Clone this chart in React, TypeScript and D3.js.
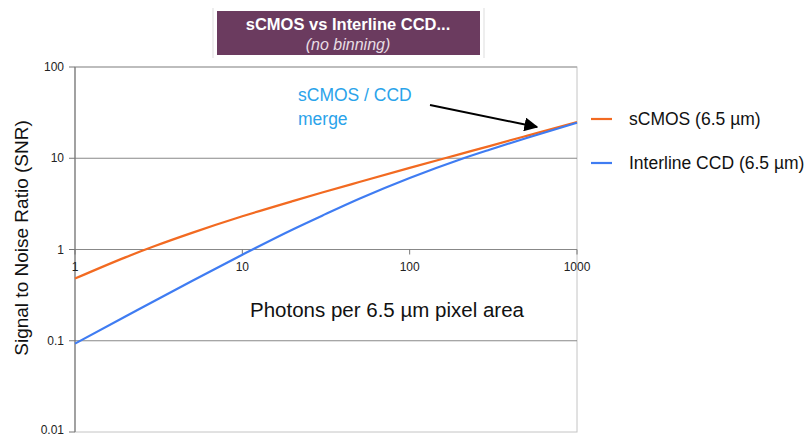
import React from "react";
import * as d3 from "d3";

const photons = [1, 2, 3, 5, 10, 20, 30, 50, 100, 200, 300, 500, 1000];
const sCMOS = [0.48, 0.82, 1.09, 1.52, 2.31, 3.39, 4.21, 5.49, 7.84, 11.1, 13.6, 17.6, 25];
const ccd = [0.093, 0.184, 0.275, 0.452, 0.877, 1.66, 2.35, 3.6, 6.08, 9.7, 12.4, 16.7, 24.5];
const yTicks = [0.01, 0.1, 1, 10, 100];
const yTickLabels = ["0.01", "0.1", "1", "10", "100"];
const xTicks = [1, 10, 100, 1000];
const xTickLabels = ["1", "10", "100", "1000"];
const seriesNames = ["sCMOS (6.5 \u00b5m)", "Interline CCD (6.5 \u00b5m)"];
const colors = ["#f26a21", "#3f7cf2"];

const W = 805, H = 437;
const FONT = "'Liberation Sans', Arial, sans-serif";

export default function App() {
  const x = d3.scaleLog().domain([1, 1000]).range([75, 577]);
  const y = d3.scaleLog().domain([0.01, 100]).range([432, 67]);
  const line = d3
    .line<[number, number]>()
    .x((d) => x(d[0]))
    .y((d) => y(d[1]))
    .curve(d3.curveMonotoneX);
  const series = [sCMOS, ccd].map((vals) => photons.map((p, i) => [p, vals[i]] as [number, number]));

  return (
    <svg width={W} height={H} style={{ position: "absolute", left: 0, top: 0, background: "#fff" }} fontFamily={FONT}>
      <defs>
        <marker id="ah" viewBox="0 0 10 10" refX="9" refY="5" markerWidth="7" markerHeight="7" orient="auto">
          <path d="M0,0 L10,5 L0,10 z" fill="#000" />
        </marker>
      </defs>
      {/* title box */}
      <line x1={213} x2={213} y1={8} y2={58} stroke="#ddd" />
      <line x1={484} x2={484} y1={8} y2={58} stroke="#ddd" />
      <rect x={217} y={11} width={263} height={44} fill="#6b3b5f" />
      <text x={348} y={30} textAnchor="middle" fill="#fff" fontSize={16.5} fontWeight="bold">sCMOS vs Interline CCD...</text>
      <text x={348} y={50} textAnchor="middle" fill="#e8dde4" fontSize={16} fontStyle="italic">(no binning)</text>

      {/* frame */}
      <rect x={x(1)} y={y(100)} width={x(1000) - x(1)} height={y(0.01) - y(100)} fill="none" stroke="#c4c4c4" />
      {yTicks.slice(1, 4).map((t) => (
        <line key={t} x1={x(1)} x2={x(1000)} y1={y(t)} y2={y(t)} stroke="#888" strokeWidth={1.2} />
      ))}
      <line x1={x(1)} x2={x(1000)} y1={y(100)} y2={y(100)} stroke="#999" />
      <line x1={x(1)} x2={x(1)} y1={y(100)} y2={y(0.01)} stroke="#777" strokeWidth={1.2} />
      {yTicks.map((t, i) => (
        <g key={t}>
          <line x1={x(1) - 6} x2={x(1)} y1={y(t)} y2={y(t)} stroke="#777" />
          <text x={x(1) - 11} y={Math.min(y(t) + 4, 434)} textAnchor="end" fontSize={12} fill="#222">{yTickLabels[i]}</text>
        </g>
      ))}
      {xTicks.map((t, i) => (
        <g key={t}>
          <line x1={x(t)} x2={x(t)} y1={y(1)} y2={y(1) + 5} stroke="#777" />
          <text x={x(t)} y={y(1) + 21} textAnchor="middle" fontSize={12} fill="#222">{xTickLabels[i]}</text>
        </g>
      ))}

      {/* series */}
      {series.map((s, i) => (
        <path key={i} d={line(s) || ""} fill="none" stroke={colors[i]} strokeWidth={2.2} />
      ))}

      {/* axis titles */}
      <text transform={`translate(28,238) rotate(-90)`} textAnchor="middle" fontSize={19} fill="#111">
        Signal to Noise Ratio (SNR)
      </text>
      <text x={387} y={317} textAnchor="middle" fontSize={20.5} fill="#111">Photons per 6.5 {"\u00b5"}m pixel area</text>

      {/* annotation */}
      <text x={298} y={101} fontSize={17.5} fill="#2aa3ea">sCMOS / CCD</text>
      <text x={298} y={125} fontSize={17.5} fill="#2aa3ea">merge</text>
      <line x1={430} y1={105} x2={537} y2={127} stroke="#000" strokeWidth={2} markerEnd="url(#ah)" />

      {/* legend */}
      {seriesNames.map((n, i) => (
        <g key={n}>
          <line x1={591} x2={612} y1={119 + i * 44} y2={119 + i * 44} stroke={colors[i]} strokeWidth={2.2} />
          <text x={629} y={125 + i * 44} fontSize={17.5} fill="#111">{n}</text>
        </g>
      ))}
    </svg>
  );
}
